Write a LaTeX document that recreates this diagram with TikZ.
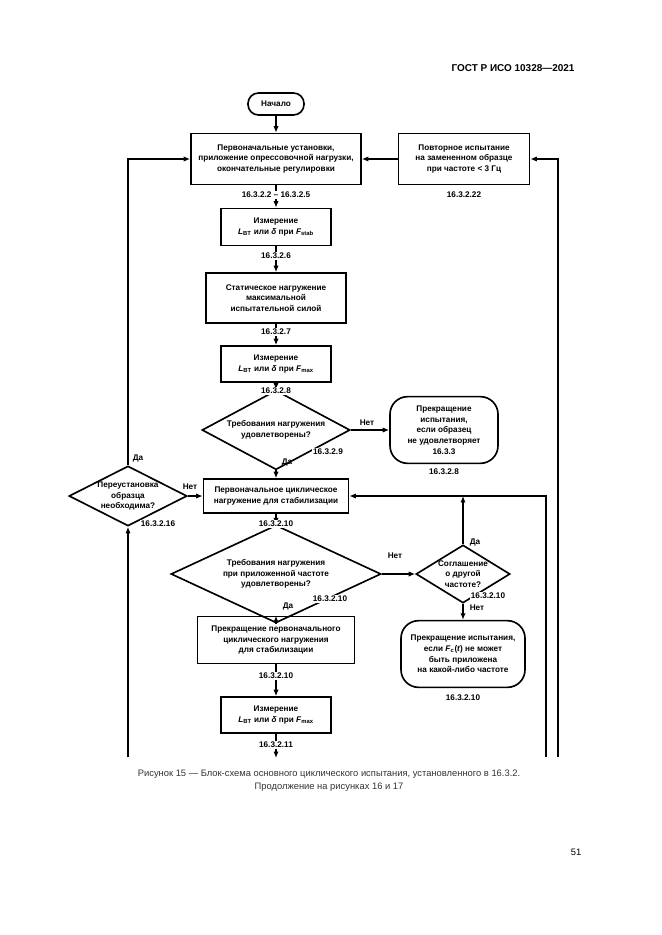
\documentclass[tikz,border=0pt]{standalone}
\usepackage{fontspec}
\setmainfont{Liberation Sans}
\usetikzlibrary{shapes.geometric,arrows.meta}

\begin{document}
\begin{tikzpicture}[
    x=0.03cm, y=-0.03cm,
    every node/.style={font=\bfseries\fontsize{7}{9.2}\selectfont},
    box/.style={rectangle, draw, line width=1.4pt, align=center, inner sep=1pt},
    term/.style={rectangle, rounded corners=15pt, draw, line width=1.4pt, align=center, inner sep=1pt},
    dec/.style={diamond, draw, line width=1.4pt, align=center, inner sep=-8pt},
    arrow/.style={-{Latex[length=5.5pt,width=4.5pt]}, line width=1.4pt},
    ref/.style={fill=white, inner sep=1pt},
    yn/.style={inner sep=1pt}
]
\useasboundingbox (0,0) rectangle (661,935);

% Шапка
\node[font=\bfseries\fontsize{8.5}{10}\selectfont] (head) at (513,68) {ГОСТ Р ИСО 10328—2021};

% Начало
\node[term, rounded corners=9pt, minimum width=1.68cm, minimum height=0.66cm] (start) at (276,104) {Начало};

% Основная ветвь
\node[box, minimum width=5.1cm, minimum height=1.53cm] (init) at (276,159) {Первоначальные установки,\\приложение опрессовочной нагрузки,\\окончательные регулировки};
\node[box, minimum width=3.93cm, minimum height=1.53cm] (retest) at (464,159) {Повторное испытание\\на замененном образце\\при частоте < 3 Гц};
\node[box, minimum width=3.3cm, minimum height=1.11cm] (meas1) at (276,227) {Измерение\\\textit{L}\textsubscript{BT} или \textit{δ} при \textit{F}\textsubscript{stab}};
\node[box, minimum width=4.2cm, minimum height=1.5cm] (static) at (276,298) {Статическое нагружение\\максимальной\\испытательной силой};
\node[box, minimum width=3.3cm, minimum height=1.08cm] (meas2) at (276,364) {Измерение\\\textit{L}\textsubscript{BT} или \textit{δ} при \textit{F}\textsubscript{max}};
\node[dec, minimum width=4.44cm, minimum height=1.56cm] (q1) at (276,430) {Требования нагружения\\удовлетворены?};
\node[term, minimum width=3.24cm, minimum height=2cm] (stop1) at (444,430) {Прекращение\\испытания,\\если образец\\не удовлетворяет\\16.3.3};
\node[box, minimum width=4.35cm, minimum height=1.02cm] (cyc) at (276,496) {Первоначальное циклическое\\нагружение для стабилизации};
\node[dec, minimum width=3.54cm, minimum height=1.8cm] (q2) at (128,496) {Переустановка\\образца\\необходима?};
\node[dec, minimum width=6.3cm, minimum height=1.86cm] (q3) at (276,574) {Требования нагружения\\при приложенной частоте\\удовлетворены?};
\node[dec, minimum width=2.82cm, minimum height=1.74cm] (q4) at (463,574) {Соглашение\\о другой\\частоте?};
\node[term, minimum width=3.72cm, minimum height=2cm] (stop2) at (463,654) {Прекращение испытания,\\если \textit{F}\textsubscript{c}(\textit{t}) не может\\быть приложена\\на какой-либо частоте};
\node[box, minimum width=4.7cm, minimum height=1.41cm] (endcyc) at (276,640) {Прекращение первоначального\\циклического нагружения\\для стабилизации};
\node[box, minimum width=3.3cm, minimum height=1.08cm] (meas3) at (276,715) {Измерение\\\textit{L}\textsubscript{BT} или \textit{δ} при \textit{F}\textsubscript{max}};

% Концы линий внизу
\coordinate (down) at (276,758);
\coordinate (lbot) at (128,757);
\coordinate (rin) at (546,757);
\coordinate (rout) at (558,757);

% Стрелки
\draw[arrow] (start) -- (init);
\draw[arrow] (init) -- (meas1);
\draw[arrow] (meas1) -- (static);
\draw[arrow] (static) -- (meas2);
\draw[arrow] (meas2) -- (q1);
\draw[arrow] (q1) -- (stop1);
\draw[arrow] (q1) -- (cyc);
\draw[arrow] (cyc) -- (q3);
\draw[arrow] (q3) -- (q4);
\draw[arrow] (q3) -- (endcyc);
\draw[arrow] (q4) -- (stop2);
\draw[arrow] (endcyc) -- (meas3);
\draw[arrow] (meas3) -- (down);
\draw[arrow] (retest) -- (init);
\draw[arrow] (rout) |- (retest);
\draw[arrow] (rin) |- (cyc);
\draw[arrow] (q4.north) -- (q4.north |- cyc.east);
\draw[arrow] (lbot) -- (q2);
\draw[arrow] (q2) |- (init);
\draw[arrow] (q2) -- (cyc);

% Ссылки на пункты
\node[ref] (r1) at (276,195) {16.3.2.2 – 16.3.2.5};
\node[ref] (r2) at (464,195) {16.3.2.22};
\node[ref] (r3) at (276,256) {16.3.2.6};
\node[ref] (r4) at (276,332) {16.3.2.7};
\node[ref] (r5) at (276,391) {16.3.2.8};
\node[ref] (r6) at (328,452) {16.3.2.9};
\node[ref] (r7) at (444,472) {16.3.2.8};
\node[ref] (r8) at (276,524) {16.3.2.10};
\node[ref] (r9) at (158,524) {16.3.2.16};
\node[ref] (r10) at (330,599) {16.3.2.10};
\node[ref] (r11) at (488,596) {16.3.2.10};
\node[ref] (r12) at (463,698) {16.3.2.10};
\node[ref] (r13) at (276,676) {16.3.2.10};
\node[ref] (r14) at (276,745) {16.3.2.11};

% Да / Нет
\node[yn] (n1) at (367,423) {Нет};
\node[yn] (y1) at (287,462) {Да};
\node[yn] (y2) at (138,458) {Да};
\node[yn] (n2) at (190,487) {Нет};
\node[yn] (n3) at (395,556) {Нет};
\node[yn] (y3) at (288,606) {Да};
\node[yn] (y4) at (475,542) {Да};
\node[yn] (n4) at (477,608) {Нет};

% Подпись
\node[font=\fontsize{8}{11}\selectfont, text=black!80, align=center] (caption) at (329,781) {Рисунок 15 — Блок-схема основного циклического испытания, установленного в 16.3.2.\\Продолжение на рисунках 16 и 17};
\node[font=\fontsize{8}{10}\selectfont] (pagenum) at (576,852) {51};

\end{tikzpicture}
\end{document}
